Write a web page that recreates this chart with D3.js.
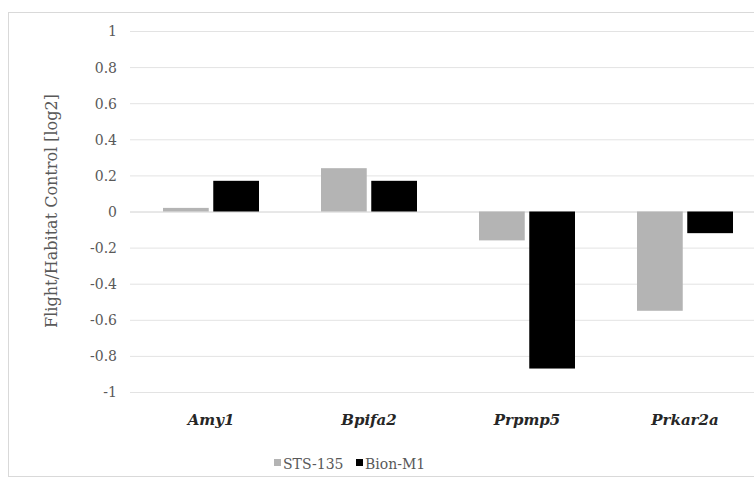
<!DOCTYPE html>
<html><head><meta charset="utf-8">
<script src="https://cdn.jsdelivr.net/npm/d3@7"></script>
<style>body{margin:0;background:#fff}svg{display:block}</style>
</head><body>
<script>
const categories = ["Amy1", "Bpifa2", "Prpmp5", "Prkar2a"];
const seriesNames = ["STS-135", "Bion-M1"];
const sts135 = [0.02, 0.24, -0.16, -0.55];
const bionM1 = [0.17, 0.17, -0.87, -0.12];
const yTicks = [1, 0.8, 0.6, 0.4, 0.2, 0, -0.2, -0.4, -0.6, -0.8, -1];
const colors = ["#b4b4b4", "#000000"];

const W = 754, H = 482;
const font = "'DejaVu Serif', 'Liberation Serif', serif";
const svg = d3.select("body").append("svg").attr("width", W).attr("height", H);

svg.append("rect").attr("x", 8.5).attr("y", 12.5).attr("width", W + 10).attr("height", 464)
  .attr("fill", "#fff").attr("stroke", "#d9d9d9");

const x0 = d3.scaleBand().domain(categories).range([132, 764]);
const y = d3.scaleLinear().domain([-1, 1]).range([392, 31]);
const xs = d3.scaleBand().domain(seriesNames).range([0, 96]).paddingInner(0.09);

// gridlines
svg.append("g").selectAll("line").data(yTicks).join("line")
  .attr("x1", 130).attr("x2", W).attr("y1", d => y(d) + 0.5).attr("y2", d => y(d) + 0.5)
  .attr("stroke", d => d === 0 ? "#d0d0d0" : "#e3e3e3").attr("stroke-width", 1);

// y tick labels
const yAxis = d3.axisLeft(y).tickValues(yTicks).tickSize(0).tickPadding(0)
  .tickFormat(d => String(+d.toFixed(1)));
const ga = svg.append("g").attr("transform", "translate(117,0)").call(yAxis);
ga.select(".domain").remove();
ga.selectAll("text").attr("font-family", font).attr("font-size", 14).attr("fill", "#595959").attr("dy", "0.35em");

// bars
const data = [sts135, bionM1];
const g = svg.append("g");
seriesNames.forEach((s, si) => {
  g.selectAll(null).data(categories).join("rect")
    .attr("x", (c) => x0(c) + (x0.bandwidth() - 96) / 2 + xs(s))
    .attr("width", xs.bandwidth())
    .attr("y", (c, i) => y(Math.max(0, data[si][i])))
    .attr("height", (c, i) => Math.abs(y(data[si][i]) - y(0)))
    .attr("fill", colors[si]);
});

// category labels
svg.append("g").selectAll("text").data(categories).join("text")
  .attr("x", c => x0(c) + x0.bandwidth() / 2)
  .attr("y", 425)
  .attr("text-anchor", "middle")
  .attr("font-family", font).attr("font-size", 15).attr("font-weight", "bold").attr("font-style", "italic")
  .attr("fill", "#262626")
  .text(c => c);

// y axis title
svg.append("text").attr("transform", "translate(57,211) rotate(-90)")
  .attr("text-anchor", "middle").attr("font-family", font).attr("font-size", 16).attr("fill", "#595959")
  .text("Flight/Habitat Control [log2]");

// legend
const leg = svg.append("g");
const legX = [274, 356];
seriesNames.forEach((s, i) => {
  leg.append("rect").attr("x", legX[i]).attr("y", 459).attr("width", 7).attr("height", 7).attr("fill", colors[i]);
  leg.append("text").attr("x", legX[i] + 9).attr("y", 469).attr("font-family", font).attr("font-size", 14)
    .attr("fill", "#595959").text(s);
});
</script>
</body></html>
